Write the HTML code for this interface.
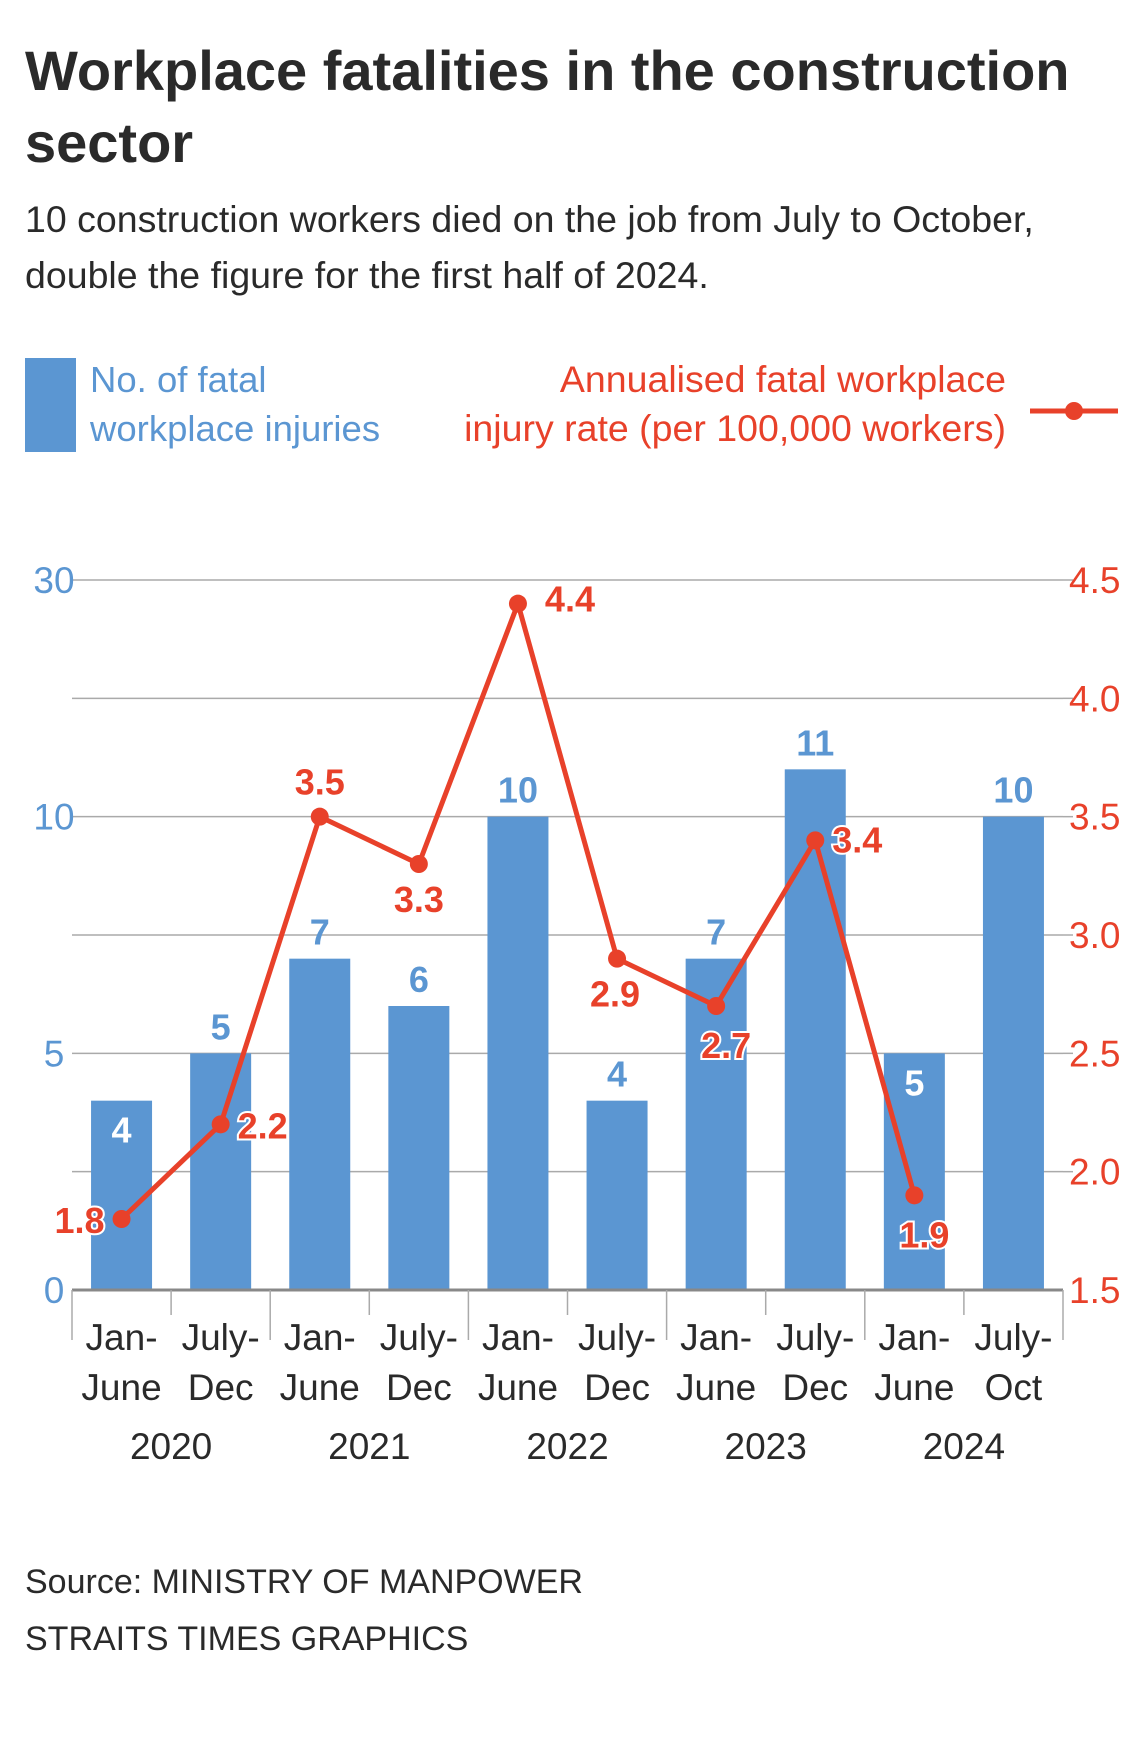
<!DOCTYPE html>
<html><head><meta charset="utf-8">
<style>
body{margin:0;background:#fff;width:1140px;height:1752px;overflow:hidden;font-family:"Liberation Sans",sans-serif;}
svg{display:block}
</style></head>
<body>
<svg width="1140" height="1752" viewBox="0 0 1140 1752">
<text x="25" y="90" font-size="56" font-weight="bold" fill="#2a2a2a">Workplace fatalities in the construction</text>
<text x="25" y="162" font-size="56" font-weight="bold" fill="#2a2a2a">sector</text>
<text x="25" y="232" font-size="37.5" fill="#2a2a2a">10 construction workers died on the job from July to October,</text>
<text x="25" y="288" font-size="37.5" fill="#2a2a2a">double the figure for the first half of 2024.</text>
<rect x="25" y="358" width="51" height="94" fill="#5b96d2"/>
<text x="90" y="392" font-size="36.5" fill="#5b96d2">No. of fatal</text>
<text x="90" y="441" font-size="36.5" fill="#5b96d2">workplace injuries</text>
<text x="1006" y="392" font-size="37.5" fill="#e8412a" text-anchor="end">Annualised fatal workplace</text>
<text x="1006" y="441" font-size="37.5" fill="#e8412a" text-anchor="end">injury rate (per 100,000 workers)</text>
<line x1="1030" y1="411" x2="1118" y2="411" stroke="#e8412a" stroke-width="5"/>
<circle cx="1074" cy="411" r="9" fill="#e8412a"/>
<g id="plot"></g>
<text x="25" y="1593" font-size="34" fill="#2a2a2a">Source: MINISTRY OF MANPOWER</text>
<text x="25" y="1650" font-size="34" fill="#2a2a2a">STRAITS TIMES GRAPHICS</text>
</svg>
<script>
const cats1 = ["Jan-","July-","Jan-","July-","Jan-","July-","Jan-","July-","Jan-","July-"];
const cats2 = ["June","Dec","June","Dec","June","Dec","June","Dec","June","Oct"];
const years = ["2020","2021","2022","2023","2024"];
const injuries = [4,5,7,6,10,4,7,11,5,10];
const rates = [1.8,2.2,3.5,3.3,4.4,2.9,2.7,3.4,1.9,null];
const rateLabels = ["1.8","2.2","3.5","3.3","4.4","2.9","2.7","3.4","1.9"];
const leftTicks = [0,5,10,15];
const leftTickLabels = ["0","5","10","30"];
const rightTicks = [1.5,2.0,2.5,3.0,3.5,4.0,4.5];
const rightTickLabels = ["1.5","2.0","2.5","3.0","3.5","4.0","4.5"];

const NS="http://www.w3.org/2000/svg";
const g=document.getElementById('plot');
const base=1290, yTop=580, x0=72, x1=1063;
const step=(x1-x0)/10;
const yL=v=>base-v*(base-yTop)/15;
const yR=r=>base-(r-1.5)/3*(base-yTop);
const xC=i=>x0+step*(i+0.5);
function mk(t,a){const e=document.createElementNS(NS,t);for(const k in a)e.setAttribute(k,a[k]);g.appendChild(e);return e;}
rightTicks.forEach((r,i)=>{
  if(i>0){const l=mk('line',{x1:x0,x2:x1,y1:yR(r),y2:yR(r),stroke:'#aaa','stroke-width':1.5});
  
  
  mk('line',{x1:x1,x2:x1+10,y1:yR(r),y2:yR(r),stroke:'#aaa','stroke-width':1.5});}
  const t=mk('text',{x:x1+6,y:yR(r)+13,'font-size':37,fill:'#e8412a'});t.textContent=rightTickLabels[i];
  
  
});
leftTicks.forEach((v,i)=>{
  const t=mk('text',{x:54,y:yL(v)+13,'font-size':37,fill:'#5b96d2','text-anchor':'middle'});t.textContent=leftTickLabels[i];
  
  
});
const inside=[0,8];
injuries.forEach((v,i)=>{
  const b=mk('rect',{x:xC(i)-30.5,y:yL(v),width:61,height:base-yL(v),fill:'#5b96d2'});
  
  
  const ins=inside.includes(i);
  const t=mk('text',{x:xC(i),y:ins?yL(v)+42:yL(v)-14,'font-size':36,'font-weight':'bold',fill:ins?'#fff':'#5b96d2','text-anchor':'middle'});
  t.textContent=v;
  
  
});
const ax=mk('line',{x1:x0,x2:x1,y1:base,y2:base,stroke:'#888','stroke-width':3});


for(let i=0;i<=10;i++){const x=x0+step*i;mk('line',{x1:x,x2:x,y1:base,y2:base+(i%2==0?50:25),stroke:'#aaa','stroke-width':1.5});}
cats1.forEach((c,i)=>{
  const t=mk('text',{x:xC(i),y:1350,'font-size':37,fill:'#2a2a2a','text-anchor':'middle'});t.textContent=c;
  
  
  const t2=mk('text',{x:xC(i),y:1400,'font-size':37,fill:'#2a2a2a','text-anchor':'middle'});t2.textContent=cats2[i];
  
  
});
years.forEach((y,i)=>{
  const t=mk('text',{x:x0+step*(2*i+1),y:1459,'font-size':37,fill:'#2a2a2a','text-anchor':'middle'});t.textContent=y;
  
  
});
const pts=rates.map((r,i)=>r==null?null:[xC(i),yR(r)]).filter(p=>p);
const pl=mk('polyline',{points:pts.map(p=>p.join(',')).join(' '),fill:'none',stroke:'#e8412a','stroke-width':5,'stroke-linejoin':'round'});


const offs=[[-42,14],[42,14],[0,-22],[0,48],[52,8],[-2,48],[10,52],[42,12],[10,52]];
pts.forEach((p,i)=>{
  const c=mk('circle',{cx:p[0],cy:p[1],r:9,fill:'#e8412a'});
  
  
  const t=mk('text',{x:p[0]+offs[i][0],y:p[1]+offs[i][1],'font-size':36,'font-weight':'bold',fill:'#e8412a','text-anchor':'middle',stroke:'#fff','stroke-width':4,'paint-order':'stroke'});
  t.textContent=rateLabels[i];
  
  
});
</script>
</body></html>
